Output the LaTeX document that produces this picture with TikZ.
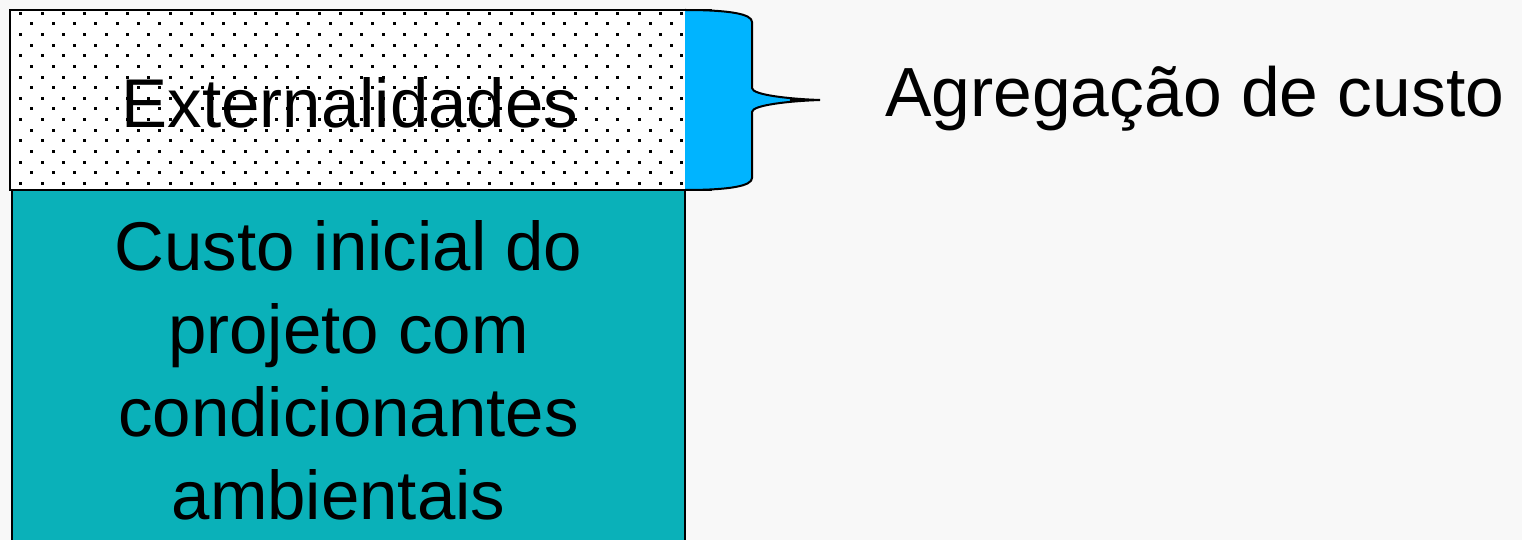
\documentclass[tikz,border=0pt]{standalone}
\usepackage{fontspec}
\setmainfont{Liberation Sans}
\definecolor{bgc}{RGB}{248,248,248}
\definecolor{tealc}{RGB}{10,177,185}
\definecolor{bluec}{RGB}{0,180,255}
\begin{document}
\begin{tikzpicture}[x=1pt,y=-1pt,
  bigtext/.style={font=\fontsize{69}{82.7}\selectfont, text=black, inner sep=0pt},
  boxline/.style={draw=black, line width=2pt},
  dotmark/.style={fill=black}]
\fill[bgc] (0,0) rectangle (1522,540);
\useasboundingbox (0,0) rectangle (1522,540);
% lower teal box
\fill[tealc] (12,191) rectangle (685,560);
\draw[line width=1.6pt] (12,191) -- (12,560) (685,191) -- (685,560);
% upper dotted box
\fill[white] (10,10) rectangle (712,190);
\foreach \j in {0,...,16}{
  \pgfmathsetmacro\yy{13.3+10.625*\j}
  \pgfmathtruncatemacro\oddrow{mod(\j,2)}
  \pgfmathsetmacro\xs{\oddrow==1 ? 31.7 : 20.7}
  \pgfmathtruncatemacro\nn{\oddrow==1 ? 30 : 31}
  \foreach \i in {0,...,\nn}{
    \fill[dotmark] ({\xs+21.33*\i-1.5},{\yy-1.5}) rectangle ++(3,3);
  }
}
\draw[boxline] (712,10) -- (10,10) -- (10,190) -- (712,190);
% brace
\fill[bluec] (685,10) .. controls (730,10) and (752,14) .. (752,22) -- (752,88)
  .. controls (752,95) and (790,99) .. (820,100)
  .. controls (790,101) and (752,105) .. (752,112) -- (752,178)
  .. controls (752,186) and (730,190) .. (685,190) -- cycle;
\draw[line width=2pt] (685,10) .. controls (730,10) and (752,14) .. (752,22) -- (752,88)
  .. controls (752,95) and (790,99) .. (820,100)
  .. controls (790,101) and (752,105) .. (752,112) -- (752,178)
  .. controls (752,186) and (730,190) .. (685,190);
\draw[line width=2pt] (790,100) -- (820,100);
% texts
\node[bigtext, anchor=base] (ext) at (350,128) {Externalidades};
\node[bigtext, anchor=base, align=center] (custo) at (348.5,519)
  {Custo inicial do\\projeto com\\condicionantes\\ambientais\hspace*{20pt}};
\node[bigtext, anchor=base west, font=\fontsize{69.6}{82.7}\selectfont] (agreg) at (885,117) {Agregação de custo};
\end{tikzpicture}
\end{document}
